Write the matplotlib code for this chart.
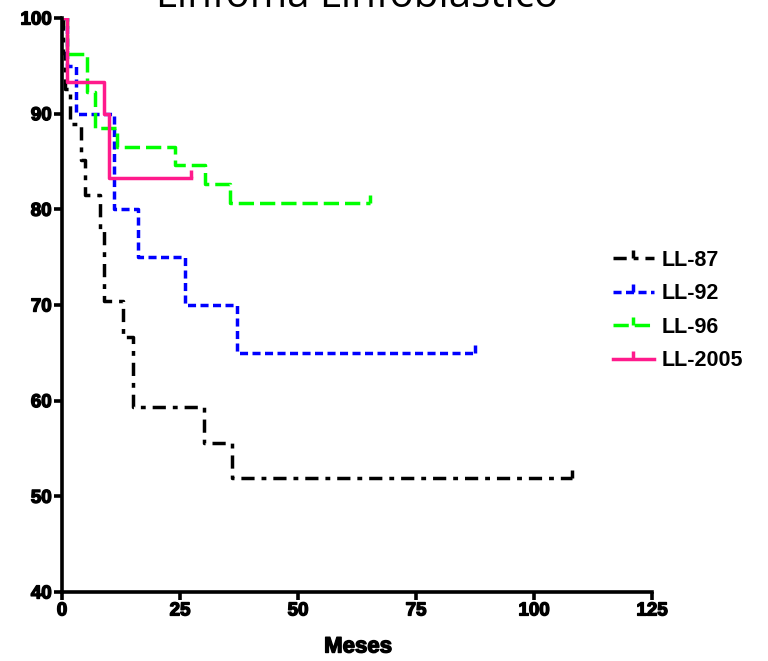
import numpy as np
from matplotlib import pyplot as plt
import matplotlib.patheffects as pe

plt.rcParams['font.family'] = ['Liberation Sans', 'DejaVu Sans']
plt.rcParams['lines.scale_dashes'] = False

# Kaplan-Meier steps: (meses, supervivencia %) -- last value is the censored end of follow-up
t_ll87 = [0, 0.3, 0.6, 1.6, 4.0, 4.8, 8.0, 9.0, 13.0, 15.0, 30.0, 36.0, 108.0]
s_ll87 = [100, 96.3, 92.6, 88.9, 85.2, 81.5, 77.8, 70.4, 66.7, 59.3, 55.6, 51.9, 51.9]

t_ll92 = [0, 1.0, 3.0, 11.0, 16.0, 26.0, 37.0, 87.5]
s_ll92 = [100, 95.0, 90.0, 80.0, 75.0, 70.0, 65.0, 65.0]

t_ll96 = [0, 1.0, 5.2, 7.0, 11.6, 24.0, 30.3, 35.6, 65.3]
s_ll96 = [100, 96.2, 92.3, 88.5, 86.5, 84.6, 82.7, 80.7, 80.7]

t_ll2005 = [0, 1.0, 9.0, 10.0, 27.3]
s_ll2005 = [100, 93.3, 90.0, 83.3, 83.3]

labels = ['LL-87', 'LL-92', 'LL-96', 'LL-2005']
colors = ['black', '#0000ff', '#00ff00', '#ff1a8c']
dashes = [(9.5, 5, 3.5, 5), (5.8, 3.2), (11, 4.3), None]

fig = plt.figure(figsize=(7.68, 6.61), dpi=100)
ax = fig.add_axes([62/768, 1 - 592/661, 590/768, 574/661])

series = [(t_ll87, s_ll87), (t_ll92, s_ll92), (t_ll96, s_ll96), (t_ll2005, s_ll2005)]
for (t, s), lab, c, d in zip(series, labels, colors, dashes):
    line, = ax.step(t, s, where='post', color=c, lw=2.5, label=lab,
                    marker=2, markevery=[len(t) - 1], markersize=6, markeredgewidth=2.5)
    if d is not None:
        line.set_dashes(d)

ax.set_xlim(0, 125)
ax.set_ylim(40, 100)
ax.set_xticks([0, 25, 50, 75, 100, 125])
ax.set_yticks([40, 50, 60, 70, 80, 90, 100])
for side in ['top', 'right']:
    ax.spines[side].set_visible(False)
for side in ['left', 'bottom']:
    ax.spines[side].set_linewidth(2.6)
ax.tick_params(direction='out', length=6, width=2.6, pad=1.5, labelsize=13.5)
heavy = [pe.withStroke(linewidth=1.0, foreground='black')]
for lbl in ax.get_xticklabels() + ax.get_yticklabels():
    lbl.set_fontweight('bold')
    lbl.set_path_effects(heavy)

fig.text(358/768, 1 - 647/661, 'Meses', ha='center', va='center', fontsize=16,
         fontweight='bold', path_effects=heavy)
fig.text(357/768, 1 - 7/661, 'Linfoma Linfoblástico', ha='center', va='baseline',
         fontsize=29, family=['Open Sans', 'DejaVu Sans'])

leg = fig.legend(loc='upper left', bbox_to_anchor=(613/768, 1 - 250/661), frameon=False,
                 numpoints=1, handlelength=1.9, handletextpad=0.35, labelspacing=0.58,
                 borderpad=0, borderaxespad=0, prop={'size': 15.5, 'weight': 'bold'})

fig.savefig('out.png', dpi=100)
